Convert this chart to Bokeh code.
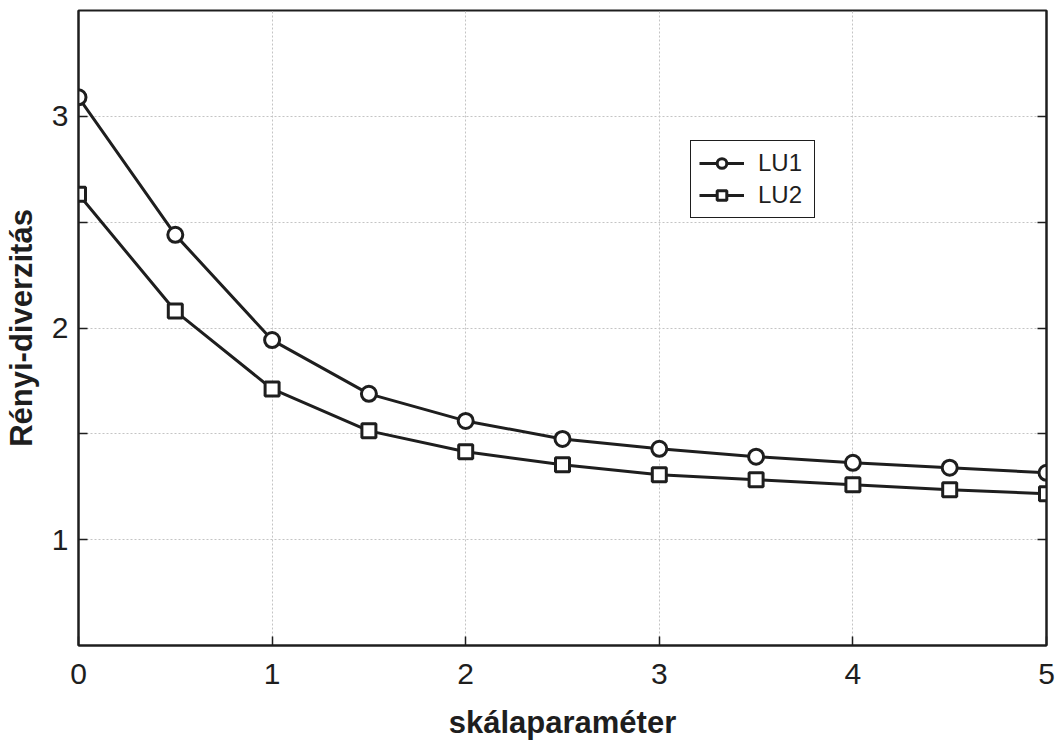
from bokeh.plotting import figure
from bokeh.models import (LinearAxis, FixedTicker, Legend, LegendItem,
                          CustomJSTickFormatter, Range1d)
from bokeh.embed import file_html
from bokeh.resources import INLINE

# ---- data ----
scale_param = [0, 0.5, 1, 1.5, 2, 2.5, 3, 3.5, 4, 4.5, 5]
lu1 = [3.09, 2.44, 1.943, 1.689, 1.561, 1.476, 1.429, 1.392, 1.363, 1.340, 1.316]
lu2 = [2.632, 2.08, 1.712, 1.514, 1.415, 1.354, 1.307, 1.283, 1.259, 1.236, 1.217]
series_names = ["LU1", "LU2"]
x_ticks = [0, 1, 2, 3, 4, 5]
y_ticks = [1, 1.5, 2, 2.5, 3]

FONT = "Liberation Sans"
INK = "#1e1e1e"

p = figure(width=1059, height=745, output_backend="svg", toolbar_location=None,
           x_range=Range1d(0, 5), y_range=Range1d(0.5, 3.5),
           min_border_left=77, min_border_right=13, min_border_top=10,
           min_border_bottom=100)
p.background_fill_color = "white"
p.border_fill_color = "white"
p.outline_line_color = INK
p.outline_line_width = 2
p.outline_line_alpha = 1

# axes
for ax in (p.xaxis[0], p.yaxis[0]):
    ax.axis_line_color = INK
    ax.axis_line_width = 2
    ax.major_tick_in = 9
    ax.major_tick_out = 0
    ax.major_tick_line_color = INK
    ax.major_tick_line_width = 1.5
    ax.minor_tick_in = 0
    ax.minor_tick_out = 0
    ax.major_label_text_font = FONT
    ax.major_label_text_font_size = "30px"
    ax.major_label_text_color = INK
    ax.axis_label_text_font = FONT
    ax.axis_label_text_font_size = "31px"
    ax.axis_label_text_font_style = "bold"
    ax.axis_label_text_color = INK

p.xaxis[0].ticker = FixedTicker(ticks=x_ticks)
p.xaxis[0].major_label_standoff = 18
p.xaxis[0].axis_label = "skálaparaméter"
p.xaxis[0].axis_label_standoff = 18

p.yaxis[0].ticker = FixedTicker(ticks=y_ticks)
p.yaxis[0].formatter = CustomJSTickFormatter(code="return (tick % 1 === 0) ? tick.toFixed(0) : '';")
p.yaxis[0].major_label_orientation = "horizontal"
p.yaxis[0].major_label_standoff = 10
p.yaxis[0].axis_label = "Rényi-diverzitás"
p.yaxis[0].axis_label_standoff = 10

right = LinearAxis(ticker=FixedTicker(ticks=y_ticks),
                   formatter=CustomJSTickFormatter(code="return '';"),
                   major_tick_in=9, major_tick_out=0, minor_tick_in=0, minor_tick_out=0,
                   major_label_standoff=0, axis_line_color=INK, axis_line_width=2,
                   major_tick_line_color=INK, major_tick_line_width=1.5)
p.add_layout(right, "right")

# grids
p.xgrid[0].ticker = FixedTicker(ticks=x_ticks)
p.ygrid[0].ticker = FixedTicker(ticks=y_ticks)
for g in (p.xgrid[0], p.ygrid[0]):
    g.grid_line_color = "#c4c4c4"
    g.grid_line_dash = "2 2"
    g.grid_line_width = 1

# series
p.line(scale_param, lu1, line_color=INK, line_width=3)
p.scatter(scale_param, lu1, marker="circle", size=15, fill_color="white",
          line_color=INK, line_width=3)
p.line(scale_param, lu2, line_color=INK, line_width=3)
p.scatter(scale_param, lu2, marker="square", size=14, fill_color="white",
          line_color=INK, line_width=3)

# hidden legend proxies (smaller markers, as in the reference legend)
l1 = p.line(scale_param, lu1, line_color=INK, line_width=3, visible=False)
m1 = p.scatter(scale_param, lu1, marker="circle", size=12, fill_color="white",
               line_color=INK, line_width=3, visible=False)
l2 = p.line(scale_param, lu2, line_color=INK, line_width=3, visible=False)
m2 = p.scatter(scale_param, lu2, marker="square", size=11, fill_color="white",
               line_color=INK, line_width=3, visible=False)

legend = Legend(items=[LegendItem(label=series_names[0], renderers=[l1, m1], index=0),
                       LegendItem(label=series_names[1], renderers=[l2, m2], index=0)],
                location=(612, 427), orientation="vertical")
legend.border_line_color = INK
legend.border_line_alpha = 1
legend.border_line_width = 1.5
legend.background_fill_color = "white"
legend.background_fill_alpha = 1
legend.inactive_fill_alpha = 0
legend.label_text_font = FONT
legend.label_text_font_size = "24px"
legend.label_text_color = INK
legend.glyph_width = 45
legend.glyph_height = 24
legend.label_height = 24
legend.label_width = 48
legend.label_standoff = 14
legend.spacing = 4
legend.padding = 8
legend.margin = 0
p.add_layout(legend)

open("out.html", "w").write(file_html(p, INLINE))
